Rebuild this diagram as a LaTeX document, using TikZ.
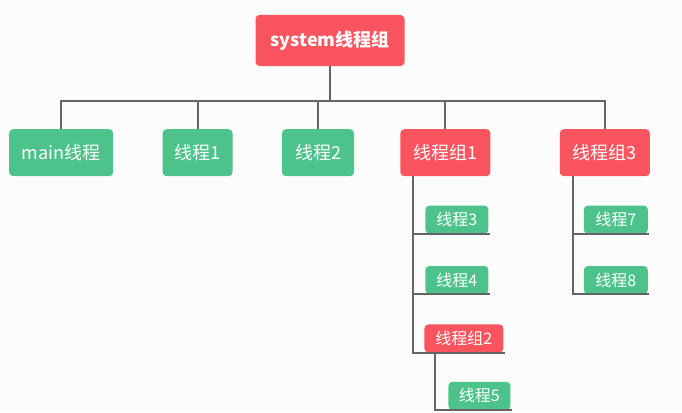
\documentclass[tikz,border=0pt]{standalone}
\usepackage{fontspec}
\setmainfont{Noto Sans CJK SC}
\usetikzlibrary{positioning}
\definecolor{groupred}{RGB}{250,85,95}
\definecolor{threadgreen}{RGB}{78,194,139}
\definecolor{linegray}{RGB}{100,100,100}
\definecolor{paper}{RGB}{252,252,252}

\begin{document}
\begin{tikzpicture}[x=1pt, y=-1pt,
    topnode/.style={rectangle, rounded corners=4pt, fill=groupred, text=white, font=\fontsize{18}{20}\selectfont\bfseries, minimum width=149pt, minimum height=51pt},
    groupnode/.style={rectangle, rounded corners=4pt, fill=groupred, text=white, font=\fontsize{18}{20}\selectfont, inner xsep=2pt, minimum width=90pt, minimum height=47pt},
    threadnode/.style={rectangle, rounded corners=4pt, fill=threadgreen, text=white, font=\fontsize{18}{20}\selectfont, inner xsep=2pt, minimum height=47pt},
    subgroup/.style={rectangle, rounded corners=4pt, fill=groupred, text=white, font=\fontsize{16}{18}\selectfont, inner xsep=2pt, minimum width=79pt, minimum height=28pt},
    subthread/.style={rectangle, rounded corners=4pt, fill=threadgreen, text=white, font=\fontsize{16}{18}\selectfont, inner xsep=2pt, minimum width=63pt, minimum height=28pt},
    link/.style={draw=linegray, line width=2pt},]
    \fill[paper] (0,0) rectangle (682,412);
    \useasboundingbox (0,0) rectangle (682,412);
    %Nodes
    \node[topnode] (sys) at (330,40.5) {system线程组};
    \node[threadnode, minimum width=104pt, anchor=north west] (main) at (9,129) {main线程};
    \node[threadnode, minimum width=70pt] (t1) [right=49pt of main] {线程1};
    \node[threadnode, minimum width=72pt] (t2) [right=49pt of t1] {线程2};
    \node[groupnode] (g1) [right=46pt of t2] {线程组1};
    \node[groupnode] (g3) [right=69pt of g1] {线程组3};

    \node[subthread] (t3) [below=29pt of g1.south west, anchor=north west, xshift=25pt] {线程3};
    \node[subthread] (t4) [below=32pt of t3.south west, anchor=north west] {线程4};
    \node[subgroup] (g2) [below=30pt of t4.south west, anchor=north west, xshift=-1pt] {线程组2};
    \node[subthread, minimum width=62pt] (t5) [below=29pt of g2.south west, anchor=north west, xshift=24pt] {线程5};

    \node[subthread, minimum width=64pt] (t7) [below=29pt of g3.south west, anchor=north west, xshift=24pt] {线程7};
    \node[subthread, minimum width=64pt] (t8) [below=32pt of t7.south west, anchor=north west] {线程8};

    % %Lines
    \coordinate (bus) at (0,101);
    \draw[link] (sys.south) -- (sys.south |- bus);
    \draw[link, line cap=rect] (main.north |- bus) -- (g3.north |- bus);
    \foreach \n in {main,t1,t2,g1,g3}
        \draw[link] (\n.north |- bus) -- (\n.north);

    \foreach \n in {t3,t4,g2}
        \draw[link] ([xshift=13pt]g1.south west) |- ([xshift=1pt]\n.south east);
    \draw[link] ([xshift=11pt]g2.south west) |- ([xshift=1pt]t5.south east);
    \foreach \n in {t7,t8}
        \draw[link] ([xshift=13pt]g3.south west) |- ([xshift=1pt]\n.south east);
\end{tikzpicture}
\end{document}
